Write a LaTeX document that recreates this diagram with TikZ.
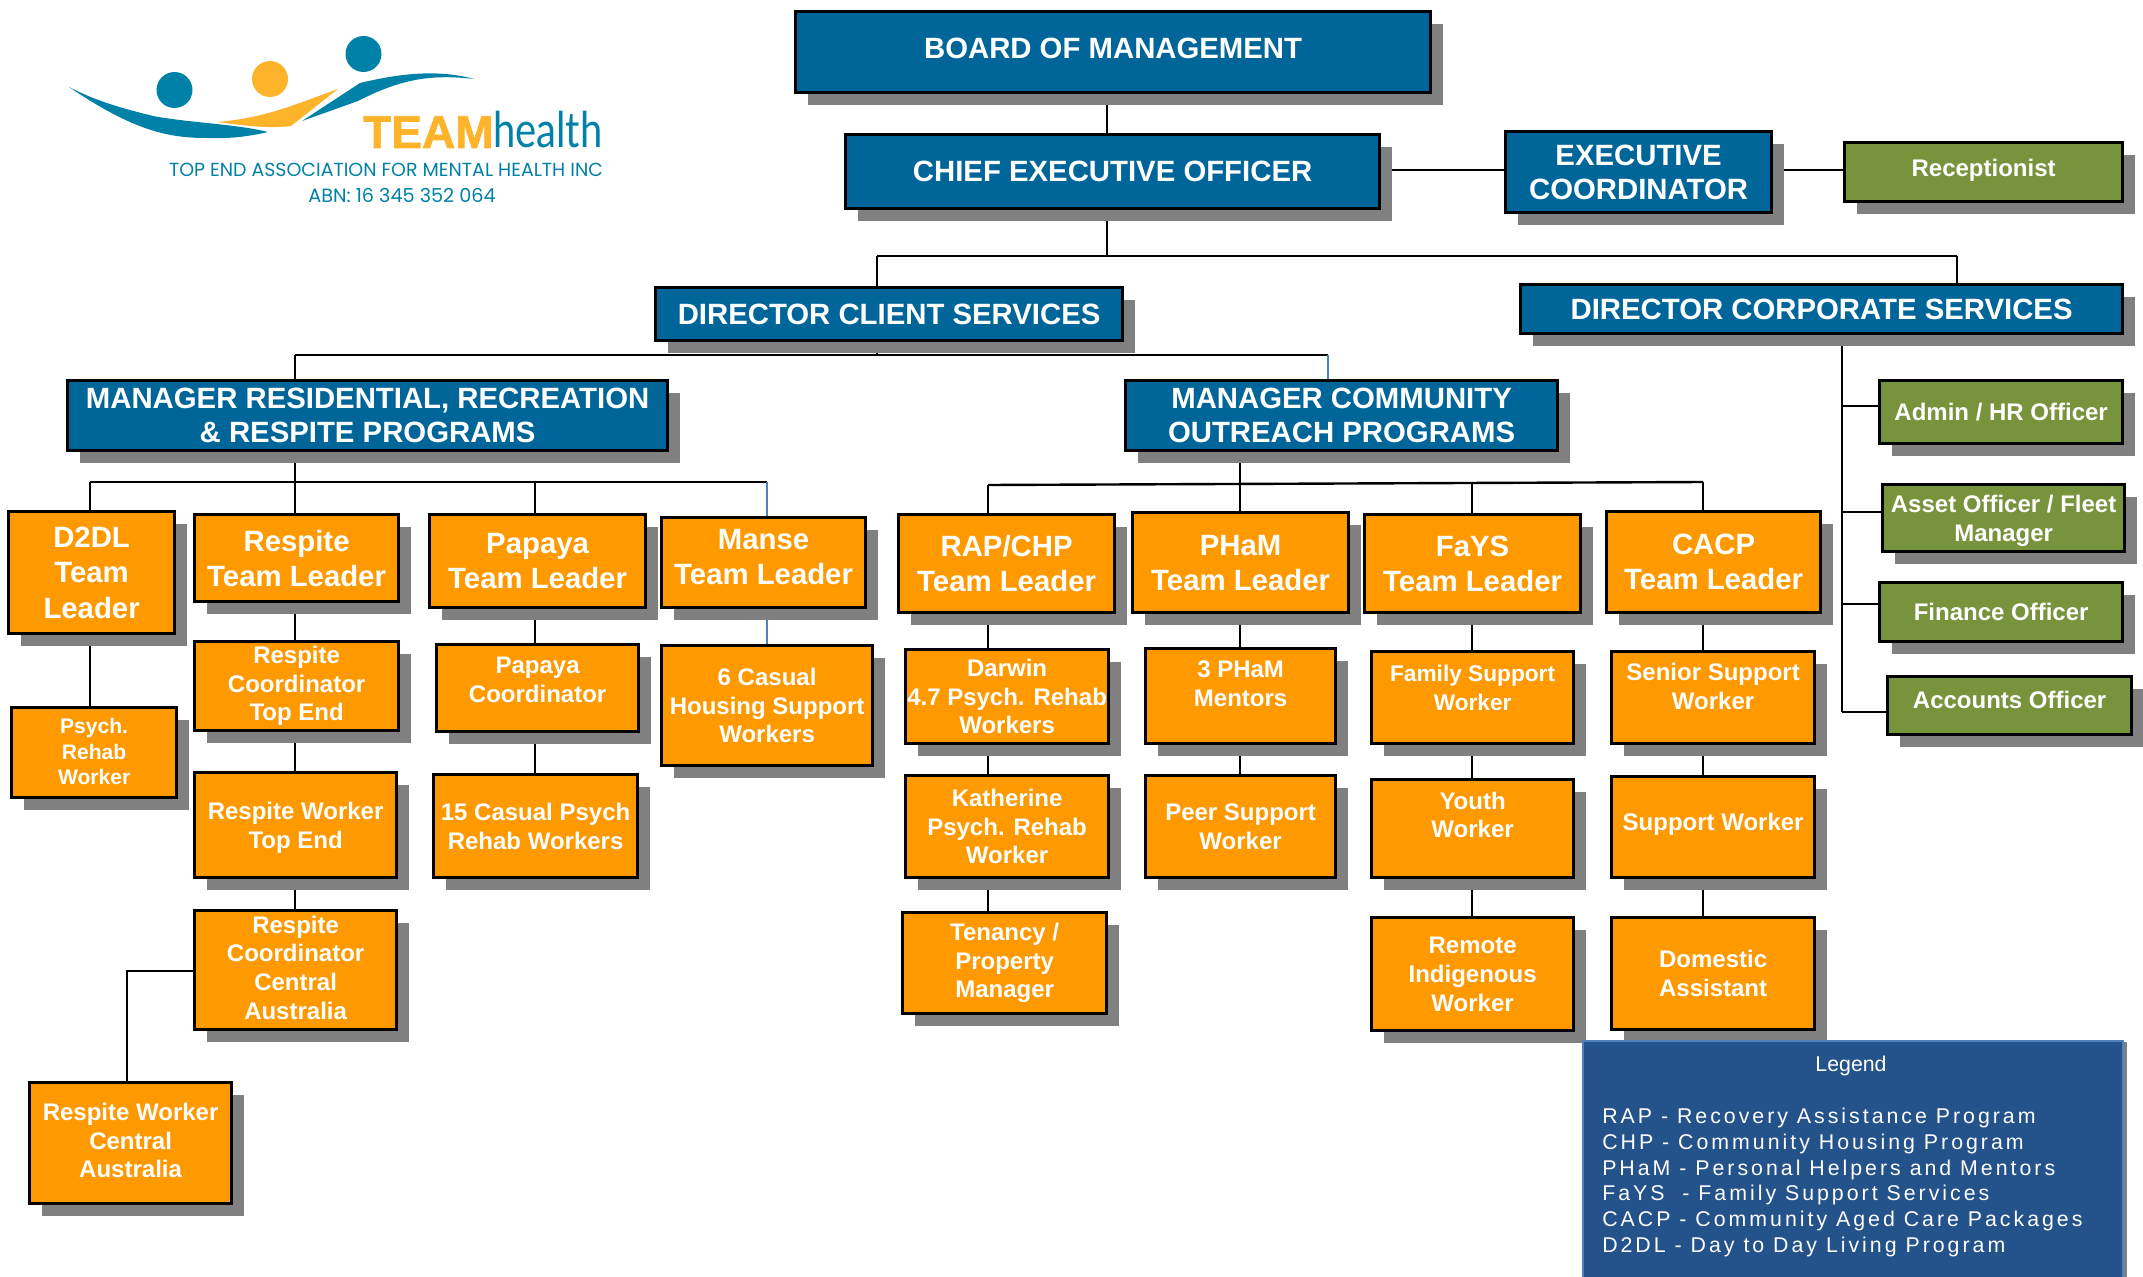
\documentclass[tikz,border=0pt]{standalone}
\usepackage{fontspec}
\usepackage{xcolor}
\setmainfont{Liberation Sans}
\newfontfamily\legendfont[LetterSpace=14]{Liberation Sans}
\newfontfamily\logofont{Poppins}
\newfontfamily\healthfont{Lato}
\newfontfamily\teamfont[FakeBold=1.6]{Liberation Sans Bold}
\usetikzlibrary{shadows,backgrounds}
\definecolor{boxblue}{HTML}{006699}
\definecolor{boxorange}{HTML}{FF9900}
\definecolor{boxgreen}{HTML}{77933C}
\definecolor{boxshadow}{HTML}{808080}
\definecolor{legendblue}{HTML}{24528A}
\definecolor{legendedge}{HTML}{4F81BD}
\definecolor{logoteal}{HTML}{0081A7}
\definecolor{logoyellow}{HTML}{FDB42A}
\tikzset{
  size/.style 2 args={minimum width=#1*0.75pt,minimum height=#2*0.75pt},
  nudge/.style={text depth=#1*1.5pt},
  orgbox/.style={
    rectangle,draw=black,line width=2.4pt,anchor=north west,inner sep=0pt,
    text=white,align=center,font=\bfseries,
    copy shadow={shadow xshift=9.2pt,shadow yshift=-9.2pt,fill=boxshadow,draw=none}
  },
  blue/.style={orgbox,fill=boxblue,font=\fontsize{22}{25.5}\selectfont\bfseries},
  lead/.style={orgbox,fill=boxorange,font=\fontsize{22}{26.5}\selectfont\bfseries},
  staff/.style={orgbox,fill=boxorange,font=\fontsize{18}{21.5}\selectfont\bfseries},
  green/.style={orgbox,fill=boxgreen,font=\fontsize{18}{21.5}\selectfont\bfseries},
  conn/.style={line width=1.1pt,black},
  bus/.style={line width=1.8pt,black},
  thinblue/.style={line width=1pt,legendedge}
}
\begin{document}
\begin{tikzpicture}[x=0.75pt,y=-0.75pt]
  \useasboundingbox (1,1) rectangle (2144,1278);
  % logo
  \fill[logoteal] (70,88) .. controls (132,130) and (167,139) .. (207,139) .. controls (232,140) and (252,137) .. (269,133) .. controls (237,125) and (192,124) .. (154,117) .. controls (122,109) and (97,102) .. cycle;
  \fill[logoyellow] (218,123) .. controls (265,119) and (292,107) .. (339,90) -- (292,127) .. controls (267,130) and (242,126) .. cycle;
  \fill[logoteal] (303,122) -- (361,84) .. controls (387,78) and (432,68) .. (475,80) .. controls (432,75) and (402,80) .. (359,102) -- cycle;
  \fill[logoteal] (175.5,91) circle [radius=18];
  \fill[logoyellow] (271,80) circle [radius=18];
  \fill[logoteal] (364.5,55) circle [radius=18];
  \node[anchor=base west,inner sep=0pt,text=logoyellow,font=\fontsize{34.5}{35}\selectfont\teamfont] (logoteam) at (364,149) {TEAM};
  \node[anchor=base west,inner sep=0pt,text=logoteal,xscale=0.81,transform shape,font=\fontsize{37}{38}\selectfont\healthfont] (logohealth) at (494,149) {health};
  \node[anchor=center,inner sep=0pt,text=logoteal,font=\fontsize{14.2}{16}\selectfont\logofont] (logoname) at (387,171) {TOP END ASSOCIATION FOR MENTAL HEALTH INC};
  \node[anchor=center,inner sep=0pt,text=logoteal,font=\fontsize{14.4}{16}\selectfont\logofont] (logoabn) at (403,196) {ABN: 16 345 352 064};
  % top of the chart
  \node[blue,size={635}{81},nudge=4] (board) at (795,11) {BOARD OF MANAGEMENT};
  \node[blue,size={534}{74}] (ceo) at (845,134) {CHIEF EXECUTIVE OFFICER};
  \node[blue,size={266}{81}] (execcoord) at (1505,131) {EXECUTIVE\\COORDINATOR};
  \node[green,size={278}{59},nudge=4] (recept) at (1844,142) {Receptionist};
  \node[blue,size={467}{53}] (dirclient) at (655,287) {DIRECTOR CLIENT SERVICES};
  \node[blue,size={602}{49}] (dircorp) at (1520,284) {DIRECTOR CORPORATE SERVICES};
  \node[blue,size={600}{70}] (mgrres) at (67,380) {MANAGER RESIDENTIAL, RECREATION\\\& RESPITE PROGRAMS};
  \node[blue,size={432}{70}] (mgrcom) at (1125,380) {MANAGER COMMUNITY\\OUTREACH PROGRAMS};
  % corporate staff
  \node[green,size={243}{63}] (admin) at (1879,380) {Admin / HR Officer};
  \node[green,size={242}{67},nudge=-5.5] (asset) at (1882,484) {Asset Officer / Fleet\\Manager};
  \node[green,size={243}{59}] (finance) at (1879,582) {Finance Officer};
  \node[green,size={244}{58},nudge=5.5] (accounts) at (1887,676) {Accounts Officer};
  % team leaders
  \node[lead,size={166}{122},nudge=-1.4] (d2dl) at (8,511) {D2DL\\Team\\Leader};
  \node[lead,size={204}{87},nudge=-1.4] (resptl) at (194,514) {Respite\\Team Leader};
  \node[lead,size={216}{93},nudge=-1.4] (paptl) at (429,514) {Papaya\\Team Leader};
  \node[lead,size={204}{90},nudge=5.4] (mansetl) at (661,517) {Manse\\Team Leader};
  \node[lead,size={216}{98},nudge=-1.4] (raptl) at (898,514) {RAP/CHP\\Team Leader};
  \node[lead,size={216}{100},nudge=-1.4] (phamtl) at (1132,512) {PHaM\\Team Leader};
  \node[lead,size={216}{98},nudge=-1.4] (faystl) at (1364,514) {FaYS\\Team Leader};
  \node[lead,size={214}{101}] (cacptl) at (1606,511) {CACP\\Team Leader};
  % residential staff
  \node[staff,size={165}{90},nudge=1,font=\fontsize{15.8}{19}\selectfont\bfseries] (psych) at (11,707) {Psych.\\Rehab\\Worker};
  \node[staff,size={204}{89}] (respcte) at (194,641) {Respite\\Coordinator\\Top End};
  \node[staff,size={202}{105},nudge=-8.2] (respwte) at (194,772) {Respite Worker\\Top End};
  \node[staff,size={202}{119},nudge=2.7] (respcca) at (194,910) {Respite\\Coordinator\\Central\\Australia};
  \node[staff,size={202}{121},nudge=2.7] (respwca) at (29,1082) {Respite Worker\\Central\\Australia};
  \node[staff,size={202}{87},nudge=8.2] (papco) at (436,644) {Papaya\\Coordinator};
  \node[staff,size={204}{103}] (papcas) at (433,774) {15 Casual Psych\\Rehab Workers};
  \node[staff,size={211}{120}] (mansecas) at (661,645) {6 Casual\\Housing Support\\Workers};
  % community staff
  \node[staff,size={203}{94},nudge=-6.7] (darwin) at (905,649) {Darwin\\4.7 Psych. Rehab\\Workers};
  \node[staff,size={203}{102}] (kath) at (905,775) {Katherine\\Psych. Rehab\\Worker};
  \node[staff,size={204}{101}] (tenancy) at (902,912) {Tenancy /\\Property\\Manager};
  \node[staff,size={190}{95},nudge=12.3] (phamm) at (1145,648) {3 PHaM\\Mentors};
  \node[staff,size={190}{102},nudge=-1.4] (peer) at (1145,775) {Peer Support\\Worker};
  \node[staff,size={202}{92},nudge=10,font=\fontsize{17}{21.5}\selectfont\bfseries] (family) at (1371,651) {Family Support\\Worker};
  \node[staff,size={202}{98},nudge=13.7] (youth) at (1371,779) {Youth\\Worker};
  \node[staff,size={202}{113},nudge=-1] (remote) at (1371,917) {Remote\\Indigenous\\Worker};
  \node[staff,size={203}{92},nudge=11.4] (senior) at (1611,651) {Senior Support\\Worker};
  \node[staff,size={203}{101},nudge=5.4] (support) at (1611,776) {Support Worker};
  \node[staff,size={203}{112}] (domestic) at (1611,917) {Domestic\\Assistant};
  % legend
  \node[rectangle,draw=legendedge,line width=1.2pt,fill=legendblue,anchor=north west,size={540}{240},
    copy shadow={shadow xshift=3pt,shadow yshift=-1pt,fill=boxshadow,draw=none}] (legend) at (1583,1041) {};
  \node[text=white,inner sep=0pt,font=\fontsize{16}{19}\selectfont] (legendtitle) at (1852,1067) {Legend};
  \node[text=white,inner sep=0pt,anchor=north west,align=left,font=\fontsize{16}{19.3}\selectfont\legendfont] (legendtext) at (1603,1109)
    {RAP - Recovery Assistance Program\\CHP - Community Housing Program\\PHaM - Personal Helpers and Mentors\\FaYS~ - Family Support Services\\CACP - Community Aged Care Packages\\D2DL - Day to Day Living Program};
  % columns and levels for the connectors
  \coordinate (cboard) at (1108,0);
  \coordinate (cclient) at (878,0);
  \coordinate (ccorp) at (1958,0);
  \coordinate (cstaff) at (1843,0);
  \coordinate (cd2dl) at (91,0);
  \coordinate (cresp) at (296,0);
  \coordinate (cpap) at (536,0);
  \coordinate (cmanse) at (768,0);
  \coordinate (ccom) at (1329,0);
  \coordinate (crap) at (989,0);
  \coordinate (cpham) at (1241,0);
  \coordinate (cfays) at (1473,0);
  \coordinate (ccacp) at (1704,0);
  \coordinate (ccentral) at (128,0);
  \coordinate (lexec) at (0,171);
  \coordinate (ltop) at (0,257);
  \coordinate (lclient) at (0,356);
  \coordinate (lres) at (0,483);
  \coordinate (lcom) at (0,486);
  \coordinate (lcentral) at (0,972);
  \begin{scope}[on background layer]
    \draw[conn] (cboard |- board.south) -- (cboard |- ceo.north);
    \draw[conn] (ceo.east |- lexec) -- (execcoord.west |- lexec);
    \draw[conn] (execcoord.east |- lexec) -- (recept.west |- lexec);
    \draw[bus] (cboard |- ceo.south) -- (cboard |- ltop);
    \draw[conn] (cclient |- ltop) -- (ccorp |- ltop);
    \draw[conn] (cclient |- ltop) -- (cclient |- dirclient.north);
    \draw[conn] (ccorp |- ltop) -- (ccorp |- dircorp.north);
    \draw[conn] (cclient |- dirclient.south) -- (cclient |- lclient);
    \draw[bus] (cresp |- lclient) -- (ccom |- lclient);
    \draw[conn] (cresp |- lclient) -- (cresp |- mgrres.north);
    \draw[thinblue] (ccom |- lclient) -- (ccom |- mgrcom.north);
    \draw[conn] (cresp |- mgrres.south) -- (cresp |- resptl.north);
    \draw[bus] (cd2dl |- lres) -- (cmanse |- lres);
    \draw[conn] (cd2dl |- lres) -- (cd2dl |- d2dl.north);
    \draw[conn] (cpap |- lres) -- (cpap |- paptl.north);
    \draw[thinblue] (cmanse |- lres) -- (cmanse |- mansetl.north);
    \draw[conn] (cpham |- mgrcom.south) -- (cpham |- phamtl.north);
    \draw[bus] (crap |- lcom) -- (ccacp |- lres);
    \draw[conn] (crap |- lcom) -- (crap |- raptl.north);
    \draw[conn] (cfays |- lres) -- (cfays |- faystl.north);
    \draw[conn] (ccacp |- lres) -- (ccacp |- cacptl.north);
    \foreach \col/\upper/\lower in {cd2dl/d2dl/psych,cresp/resptl/respcte,cresp/respcte/respwte,cresp/respwte/respcca,
      cpap/paptl/papco,cpap/papco/papcas,crap/raptl/darwin,crap/darwin/kath,crap/kath/tenancy,
      cpham/phamtl/phamm,cpham/phamm/peer,cfays/faystl/family,cfays/family/youth,cfays/youth/remote,
      ccacp/cacptl/senior,ccacp/senior/support,ccacp/support/domestic}
      \draw[conn] (\col |- \upper.south) -- (\col |- \lower.north);
    \draw[thinblue] (cmanse |- mansetl.south) -- (cmanse |- mansecas.north);
    \draw[conn] (respcca.west |- lcentral) -- (ccentral |- lcentral) -- (ccentral |- respwca.north);
    \coordinate (ladmin) at (0,407);
    \coordinate (lasset) at (0,513);
    \coordinate (lfinance) at (0,605);
    \coordinate (laccounts) at (0,713);
    \draw[conn] (cstaff |- dircorp.south) -- (cstaff |- laccounts);
    \foreach \leaf/\lev in {admin/ladmin,asset/lasset,finance/lfinance,accounts/laccounts}
      \draw[conn] (cstaff |- \lev) -- (\leaf.west |- \lev);
  \end{scope}
\end{tikzpicture}
\end{document}
